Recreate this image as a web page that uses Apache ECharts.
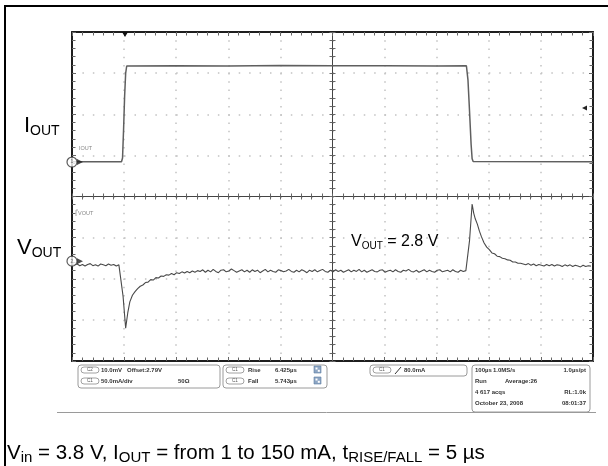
<!DOCTYPE html>
<html>
<head>
<meta charset="utf-8">
<script src="https://cdn.jsdelivr.net/npm/echarts@6/dist/echarts.min.js"></script>
<style>
  html, body { margin: 0; padding: 0; background: #fff; }
  #chart { width: 608px; height: 466px; }
</style>
</head>
<body>
<div id="chart"></div>
<script>
// ---- Scope settings (per division) ----
const timePerDivUs = 100;      // 100 µs/div, 10 divisions
const ioutPerDivMa = 50;       // C1: 50.0 mA/div
const voutPerDivMv = 10;       // C2: 10.0 mV/div, offset 2.79 V
const ioutRefDiv = 3.163;      // C1 reference marker, divisions below top
const voutRefDiv = 5.572;      // C2 reference marker, divisions below top

// ---- I_OUT (mA), [time µs, current] ----
const ioutSamples = [
  [0, 0.4], [95, 0.4], [97, 5], [99, 40], [101, 80], [103, 108], [105, 116.8],
  [200, 117.2], [300, 116.9], [400, 117.3], [500, 117.0], [600, 117.2], [700, 116.9],
  [757, 117.1], [760, 100], [763, 62], [766, 22], [768, 4], [770, 0.6], [1000, 0.4]
];

// ---- V_OUT deviation from 2.79 V offset (mV) ----
// steady state before the load step, sampled every 5 µs from 0 µs
const voutBeforeStart = 0;
const voutBefore = [-0.6, -0.9, -0.7, -1.1, -0.8, -1.2, -0.8, -0.6, -1.1, -0.9,
  -1.2, -0.7, -0.9, -1.1, -0.7, -1.0, -0.8, -1.2, -0.9];
// undershoot on the rising load step
const voutDip = [
  [93, -1.0], [98, -8.5], [103, -16.3], [107, -12.6], [111, -9.9], [116, -8.3],
  [121, -7.4], [126, -6.7], [131, -6.1], [136, -5.8], [141, -5.2], [146, -5.1],
  [151, -4.5], [156, -4.6], [161, -4.0], [166, -4.1], [171, -3.6], [176, -3.7],
  [181, -3.3], [186, -3.4], [191, -3.0], [196, -3.3], [201, -2.8], [206, -3.0],
  [211, -2.6], [216, -2.9], [221, -2.5], [226, -2.8], [231, -2.4], [236, -2.7], [241, -2.3]
];
// loaded steady state, sampled every 5 µs from 246 µs
const voutLoadedStart = 246;
const voutLoaded = [
  -2.5, -2.1, -2.7, -2.2, -2.6, -2.0, -2.5, -2.8, -2.2, -2.1,
  -2.6, -2.4, -1.9, -2.3, -2.7, -2.4, -2.1, -2.6, -2.2, -2.7,
  -2.1, -2.5, -2.2, -2.8, -2.4, -2.0, -2.6, -2.2, -2.5, -2.7,
  -2.1, -2.3, -2.6, -2.4, -2.0, -2.5, -2.7, -2.2, -2.6, -2.1,
  -2.4, -2.8, -2.2, -2.5, -2.1, -2.6, -2.3, -2.0, -2.5, -2.7,
  -2.2, -2.6, -2.1, -2.5, -2.2, -2.7, -2.4, -2.1, -2.6, -2.2,
  -2.5, -2.0, -2.6, -2.2, -2.7, -2.4, -2.1, -2.5, -2.6, -2.2,
  -2.1, -2.7, -2.4, -2.2, -2.6, -2.1, -2.5, -2.7, -2.2, -2.4,
  -2.0, -2.5, -2.6, -2.2, -2.7, -2.4, -2.1, -2.6, -2.2, -2.5,
  -2.7, -2.2, -2.1, -2.6, -2.4, -2.2, -2.6, -2.1, -2.5, -2.7,
  -2.2, -2.5, -2.3
];
// overshoot on the falling load step
const voutOvershoot = [
  [759, -2.2], [763, 5.0], [768, 13.9], [771, 11.7], [774, 10.3], [778, 9.0],
  [782, 7.3], [786, 5.9], [791, 4.4], [796, 3.4], [801, 2.8], [806, 2.0],
  [811, 1.8], [816, 1.2], [821, 1.1], [826, 0.7], [831, 0.6], [836, 0.3],
  [841, 0.2], [846, -0.2], [851, -0.2], [856, -0.5], [861, -0.5]
];
// light-load steady state, sampled every 5 µs from 866 µs
const voutAfterStart = 866;
const voutAfter = [-0.7, -0.9, -0.6, -1.0, -0.7, -1.1, -0.8, -1.0, -1.2, -0.8,
  -1.1, -0.8, -1.2, -0.9, -1.0, -1.3, -0.9, -1.2, -0.9, -1.3,
  -1.0, -1.2, -1.4, -1.0, -1.3, -1.1, -1.2];
const sampleStepUs = 5;

function evenlySampled(start, values) {
  return values.map((v, i) => [start + i * sampleStepUs, v]);
}
const voutSamples = [].concat(
  evenlySampled(voutBeforeStart, voutBefore),
  voutDip,
  evenlySampled(voutLoadedStart, voutLoaded),
  voutOvershoot,
  evenlySampled(voutAfterStart, voutAfter)
);

// ---- Axis extents derived from the scope settings ----
const ioutMax = ioutRefDiv * ioutPerDivMa;
const ioutMin = ioutMax - 8 * ioutPerDivMa;
const voutMax = voutRefDiv * voutPerDivMv;
const voutMin = voutMax - 8 * voutPerDivMv;

const FONT = 'Liberation Sans, Arial, sans-serif';
const frameColor = '#1e1e1e';
const dotColor = '#c2c2c2';

// division axes used for the graticule
function divAxis(extra) {
  return Object.assign({
    type: 'value', show: true, interval: 1,
    axisLabel: { show: false },
    splitLine: { show: false },
    axisLine: { show: true, onZero: false, lineStyle: { color: frameColor, width: 2 } },
    axisTick: { show: true, inside: true, length: 4, lineStyle: { color: '#666', width: 1 } },
    minorTick: { show: true, splitNumber: 5, length: 3.5, lineStyle: { color: '#666', width: 1 } }
  }, extra);
}
function centerAxis(pos, min, max, inside, zeroIdx) {
  return Object.assign(divAxis({ position: pos, min: min, max: max }), {
    axisLine: { show: true, onZero: true, onZeroAxisIndex: zeroIdx, lineStyle: { color: '#444', width: 1 } },
    axisTick: { show: true, inside: inside, length: 3, lineStyle: { color: '#666', width: 1 } },
    minorTick: { show: true, splitNumber: 5, length: 3, lineStyle: { color: '#666', width: 1 } }
  });
}

// ---- Decorations: labels, channel markers, status boxes ----
const g = [];
function txt(x, y, text, size, opt) {
  g.push(Object.assign({
    type: 'text', x: x, y: y, z: 50,
    style: Object.assign({ text: text, font: (opt && opt.bold ? 'bold ' : '') + size + 'px ' + FONT,
      fill: '#333', textVerticalAlign: 'middle' }, opt && opt.style)
  }, opt && opt.el));
}
function box(x, y, w, h) {
  g.push({ type: 'rect', z: 40, shape: { x: x, y: y, width: w, height: h, r: 3 },
    style: { fill: '#fff', stroke: '#9a9a9a', lineWidth: 1 } });
}
function pill(x, y, label) {
  g.push({ type: 'rect', z: 45, shape: { x: x, y: y, width: 18, height: 6, r: 3 },
    style: { fill: '#fff', stroke: '#8a8a8a', lineWidth: 0.8 } });
  txt(x + 9, y + 3, label, 4.5, { style: { textAlign: 'center', fill: '#555' } });
}
function icon(x, y) {
  g.push({ type: 'rect', z: 45, shape: { x: x, y: y, width: 7, height: 7 },
    style: { fill: '#8ea6c4', stroke: '#5d7da3', lineWidth: 0.6 } });
  g.push({ type: 'rect', z: 46, shape: { x: x + 1.5, y: y + 1.5, width: 2, height: 2 },
    style: { fill: '#fff' } });
  g.push({ type: 'rect', z: 46, shape: { x: x + 3.8, y: y + 3.8, width: 2, height: 2 },
    style: { fill: '#fff' } });
}
function richLabel(x, y, parts, mainSize, subSize, lh) {
  let s = '';
  parts.forEach(p => { s += '{' + (p[1] ? 's' : 'm') + '|' + p[0] + '}'; });
  g.push({
    type: 'text', x: x, y: y, z: 50,
    style: {
      text: s, textVerticalAlign: 'top',
      rich: {
        m: { fontFamily: FONT, fontSize: mainSize, lineHeight: lh, verticalAlign: 'middle', fill: '#000' },
        s: { fontFamily: FONT, fontSize: subSize, lineHeight: subSize, verticalAlign: 'bottom', fill: '#000' }
      }
    }
  });
}

// outer frame (top and left edges)
g.push({ type: 'line', z: 60, shape: { x1: 4, y1: 6, x2: 608, y2: 6 }, style: { stroke: '#000', lineWidth: 2 } });
g.push({ type: 'line', z: 60, shape: { x1: 5, y1: 5, x2: 5, y2: 466 }, style: { stroke: '#000', lineWidth: 2 } });

// trace names
richLabel(24, 114, [['I'], ['OUT', 1]], 22, 14, 24);
richLabel(17, 236, [['V'], ['OUT', 1]], 22, 14, 24);
richLabel(351, 233, [['V'], ['OUT', 1], [' = 2.8 V']], 16, 10, 18);
richLabel(7, 441, [['V'], ['in', 1], [' = 3.8 V, I'], ['OUT', 1], [' = from 1 to 150 mA, t'], ['RISE/FALL', 1], [' = 5 µs']], 20.5, 15, 24);

// channel tags inside the graticule
txt(79, 148, 'IOUT', 5.5, { style: { fill: '#888' } });
txt(78, 213, 'VOUT', 5.5, { style: { fill: '#888' } });
g.push({ type: 'polyline', z: 50, shape: { points: [[78, 210], [76, 210], [76, 216]] }, style: { stroke: '#999', lineWidth: 0.8, fill: null } });

// trigger position and level markers
g.push({ type: 'polygon', z: 55, shape: { points: [[122, 32], [128, 32], [125, 37]] }, style: { fill: '#111' } });
g.push({ type: 'polygon', z: 55, shape: { points: [[582, 108], [587, 105.5], [587, 110.5]] }, style: { fill: '#222' } });

// status boxes
box(78, 365, 142, 23);
pill(81, 367, 'C2'); txt(101, 370, '10.0mV', 6, { bold: true }); txt(127, 370, 'Offset:2.79V', 6, { bold: true });
pill(81, 378, 'C1'); txt(101, 381, '50.0mA/div', 6, { bold: true }); txt(178, 381, '50Ω', 6, { bold: true });

box(223, 365, 104, 23);
pill(226, 367, 'C1'); txt(248, 370, 'Rise', 6, { bold: true }); txt(275, 370, '6.425µs', 6, { bold: true }); icon(314, 366);
pill(226, 378, 'C1'); txt(248, 381, 'Fall', 6, { bold: true }); txt(275, 381, '5.743µs', 6, { bold: true }); icon(314, 377);

box(370, 365, 97, 11);
pill(373, 367, 'C1');
g.push({ type: 'line', z: 50, shape: { x1: 395, y1: 374, x2: 401, y2: 367 }, style: { stroke: '#333', lineWidth: 1 } });
txt(404, 370, '80.0mA', 6, { bold: true });

g.push({ type: 'line', z: 39, shape: { x1: 57, y1: 412.5, x2: 596, y2: 412.5 }, style: { stroke: '#9a9a9a', lineWidth: 1 } });
box(472, 365, 118, 47);
txt(475, 370, '100µs', 6, { bold: true }); txt(493, 370, '1.0MS/s', 6, { bold: true });
txt(586, 370, '1.0µs/pt', 6, { bold: true, style: { textAlign: 'right' } });
txt(475, 381, 'Run', 6, { bold: true }); txt(505, 381, 'Average:26', 6, { bold: true });
txt(475, 392, '4 617 acqs', 6, { bold: true });
txt(586, 392, 'RL:1.0k', 6, { bold: true, style: { textAlign: 'right' } });
txt(475, 403, 'October 23, 2008', 6, { bold: true });
txt(586, 403, '08:01:37', 6, { bold: true, style: { textAlign: 'right' } });

const chart = echarts.init(document.getElementById('chart'), null, { renderer: 'canvas' });
chart.setOption({
  animation: false,
  backgroundColor: '#fff',
  grid: { left: 72, top: 32, width: 521, height: 329, containLabel: false },
  xAxis: [
    // 0: time base for the traces
    { type: 'value', show: false, min: 0, max: 10 * timePerDivUs, axisLine: { onZero: false } },
    // 1: bottom edge + vertical dotted graticule
    divAxis({ position: 'bottom', min: -5, max: 5,
      splitLine: { show: true, lineStyle: { color: dotColor, width: 1.5, type: [1.5, 6.72] } } }),
    // 2: top edge
    divAxis({ position: 'top', min: -5, max: 5 }),
    // 3, 4: horizontal centre line with ticks on both sides
    centerAxis('bottom', -5, 5, true, 2),
    centerAxis('bottom', -5, 5, false, 2)
  ],
  yAxis: [
    // 0: I_OUT in mA
    { type: 'value', show: false, min: ioutMin, max: ioutMax, axisLine: { onZero: false } },
    // 1: V_OUT deviation in mV
    { type: 'value', show: false, min: voutMin, max: voutMax, axisLine: { onZero: false } },
    // 2: left edge + horizontal dotted graticule
    divAxis({ position: 'left', min: -4, max: 4,
      splitLine: { show: true, lineStyle: { color: dotColor, width: 1.5, type: [1.5, 8.92] } } }),
    // 3: right edge
    divAxis({ position: 'right', min: -4, max: 4 }),
    // 4, 5: vertical centre line with ticks on both sides
    centerAxis('left', -4, 4, true, 1),
    centerAxis('left', -4, 4, false, 1)
  ],
  series: [
    {
      name: 'IOUT', type: 'line', xAxisIndex: 0, yAxisIndex: 0,
      data: ioutSamples, showSymbol: false, symbol: 'none', z: 10,
      lineStyle: { color: '#5f5f5f', width: 1.5 }
    },
    {
      name: 'VOUT', type: 'line', xAxisIndex: 0, yAxisIndex: 1,
      data: voutSamples, showSymbol: false, symbol: 'none', z: 10,
      lineStyle: { color: '#4a4a4a', width: 1.1 }
    },
    // channel reference markers at each trace's zero level
    {
      type: 'scatter', xAxisIndex: 0, yAxisIndex: 0, clip: false, z: 20,
      data: [[0, 0]], symbol: 'triangle', symbolRotate: -90, symbolSize: 6, symbolOffset: [8, 0],
      itemStyle: { color: '#222' }, silent: true
    },
    {
      type: 'scatter', xAxisIndex: 0, yAxisIndex: 0, clip: false, z: 21,
      data: [[0, 0]], symbol: 'circle', symbolSize: 10,
      itemStyle: { color: '#fff', borderColor: '#333', borderWidth: 1.2 },
      label: { show: true, position: 'inside', formatter: '1', fontSize: 5, color: '#555', fontFamily: FONT }, silent: true
    },
    {
      type: 'scatter', xAxisIndex: 0, yAxisIndex: 1, clip: false, z: 20,
      data: [[0, 0]], symbol: 'triangle', symbolRotate: -90, symbolSize: 6, symbolOffset: [8, 0],
      itemStyle: { color: '#222' }, silent: true
    },
    {
      type: 'scatter', xAxisIndex: 0, yAxisIndex: 1, clip: false, z: 21,
      data: [[0, 0]], symbol: 'circle', symbolSize: 10,
      itemStyle: { color: '#fff', borderColor: '#333', borderWidth: 1.2 },
      label: { show: true, position: 'inside', formatter: '2', fontSize: 5, color: '#555', fontFamily: FONT }, silent: true
    }
  ],
  graphic: { elements: g }
});
</script>
</body>
</html>
